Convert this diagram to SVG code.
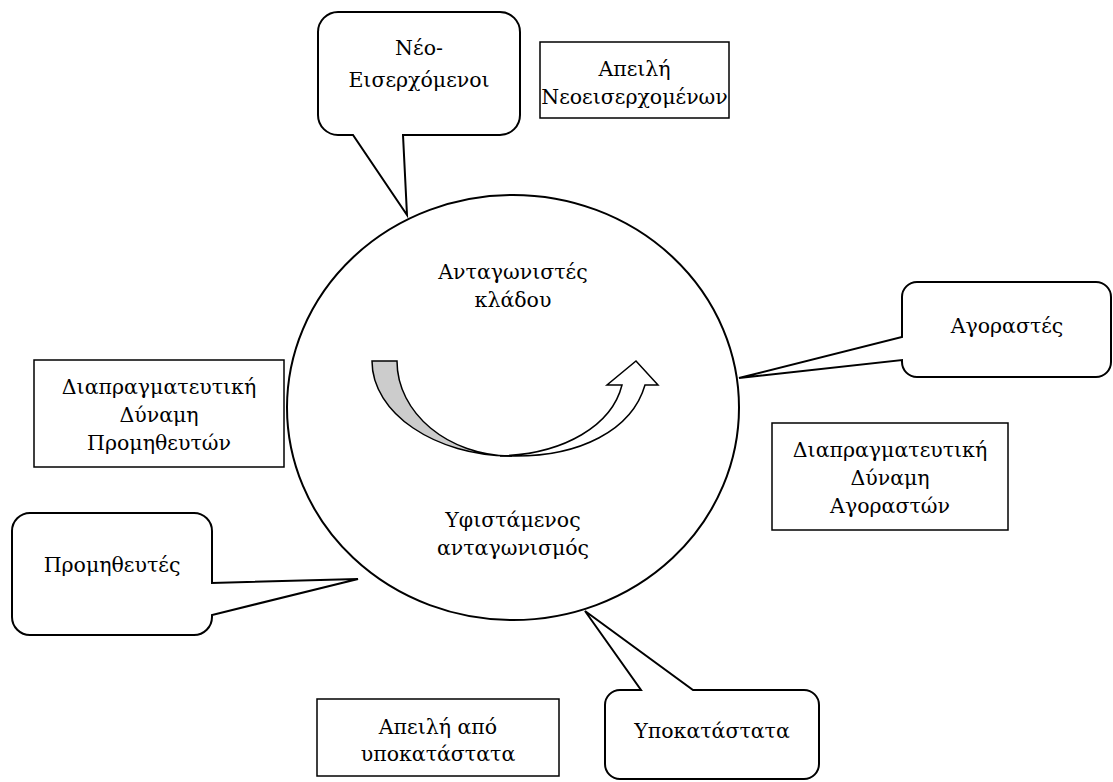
<svg xmlns="http://www.w3.org/2000/svg" width="1113" height="782" viewBox="0 0 1113 782">
<style>
.t{font-family:"DejaVu Serif","Liberation Serif",serif;font-size:20.5px;fill:#000;text-anchor:middle}
.box{fill:#fff;stroke:#000;stroke-width:1.5}
.call{fill:#fff;stroke:#000;stroke-width:2;stroke-linejoin:miter}
</style>
<rect width="1113" height="782" fill="#fff"/>
<g id="industry">
<ellipse cx="513" cy="407.5" rx="226" ry="212.5" fill="#fff" stroke="#000" stroke-width="2"/>
<text class="t" x="513" y="279">Ανταγωνιστές</text>
<text class="t" x="513" y="307">κλάδου</text>
<text class="t" x="513" y="527">Υφιστάμενος</text>
<text class="t" x="513" y="555">ανταγωνισμός</text>
</g>
<g id="rivalry-arrow" stroke="#000" stroke-width="1.5" stroke-linejoin="miter">
<path d="M372,361 L397,361 C397,413 448,456 512,456 C435,456 372,413 372,361 Z" fill="#ccc"/>
<path d="M500,456 C565,454 612,425 622,385 L607,385 L636,361 L658,385 L645,385 C632,430 580,457 512,456 Z" fill="#fff"/>
</g>
<g id="new-entrants">
<path class="call" d="M338,12 H500 A20 20 0 0 1 520,32 V115 A20 20 0 0 1 500,135 H403 L407,215 L353,135 H338 A20 20 0 0 1 318,115 V32 A20 20 0 0 1 338,12 Z"/>
<text class="t" x="419" y="55">Νέο-</text>
<text class="t" x="419" y="87">Εισερχόμενοι</text>
</g>
<g id="threat-entrants">
<rect class="box" x="540" y="42" width="189" height="76"/>
<text class="t" x="634.5" y="76">Απειλή</text>
<text class="t" x="634.5" y="104">Νεοεισερχομένων</text>
</g>
<g id="buyers">
<path class="call" d="M917,282 H1096 A15 15 0 0 1 1111,297 V362 A15 15 0 0 1 1096,377 H917 A15 15 0 0 1 902,362 V360 L739,378 L902,337 V297 A15 15 0 0 1 917,282 Z"/>
<text class="t" x="1007" y="333">Αγοραστές</text>
</g>
<g id="buyer-power">
<rect class="box" x="772" y="423" width="236" height="107"/>
<text class="t" x="890" y="457">Διαπραγματευτική</text>
<text class="t" x="890" y="485">Δύναμη</text>
<text class="t" x="890" y="513">Αγοραστών</text>
</g>
<g id="supplier-power">
<rect class="box" x="34" y="360" width="250" height="107"/>
<text class="t" x="159" y="394">Διαπραγματευτική</text>
<text class="t" x="159" y="422">Δύναμη</text>
<text class="t" x="159" y="450">Προμηθευτών</text>
</g>
<g id="suppliers">
<path class="call" d="M30,513 H194 A18 18 0 0 1 212,531 V583 L358,579 L212,615 V617 A18 18 0 0 1 194,635 H30 A18 18 0 0 1 12,617 V531 A18 18 0 0 1 30,513 Z"/>
<text class="t" x="112" y="572">Προμηθευτές</text>
</g>
<g id="threat-substitutes">
<rect class="box" x="317" y="699" width="242" height="77"/>
<text class="t" x="438" y="734">Απειλή από</text>
<text class="t" x="438" y="761">υποκατάστατα</text>
</g>
<g id="substitutes">
<path class="call" d="M620,690 H641 L585,611 L693,690 H804 A15 15 0 0 1 819,705 V764 A15 15 0 0 1 804,779 H620 A15 15 0 0 1 605,764 V705 A15 15 0 0 1 620,690 Z"/>
<text class="t" x="712" y="738">Υποκατάστατα</text>
</g>
<g id="connectors"></g>
</svg>
